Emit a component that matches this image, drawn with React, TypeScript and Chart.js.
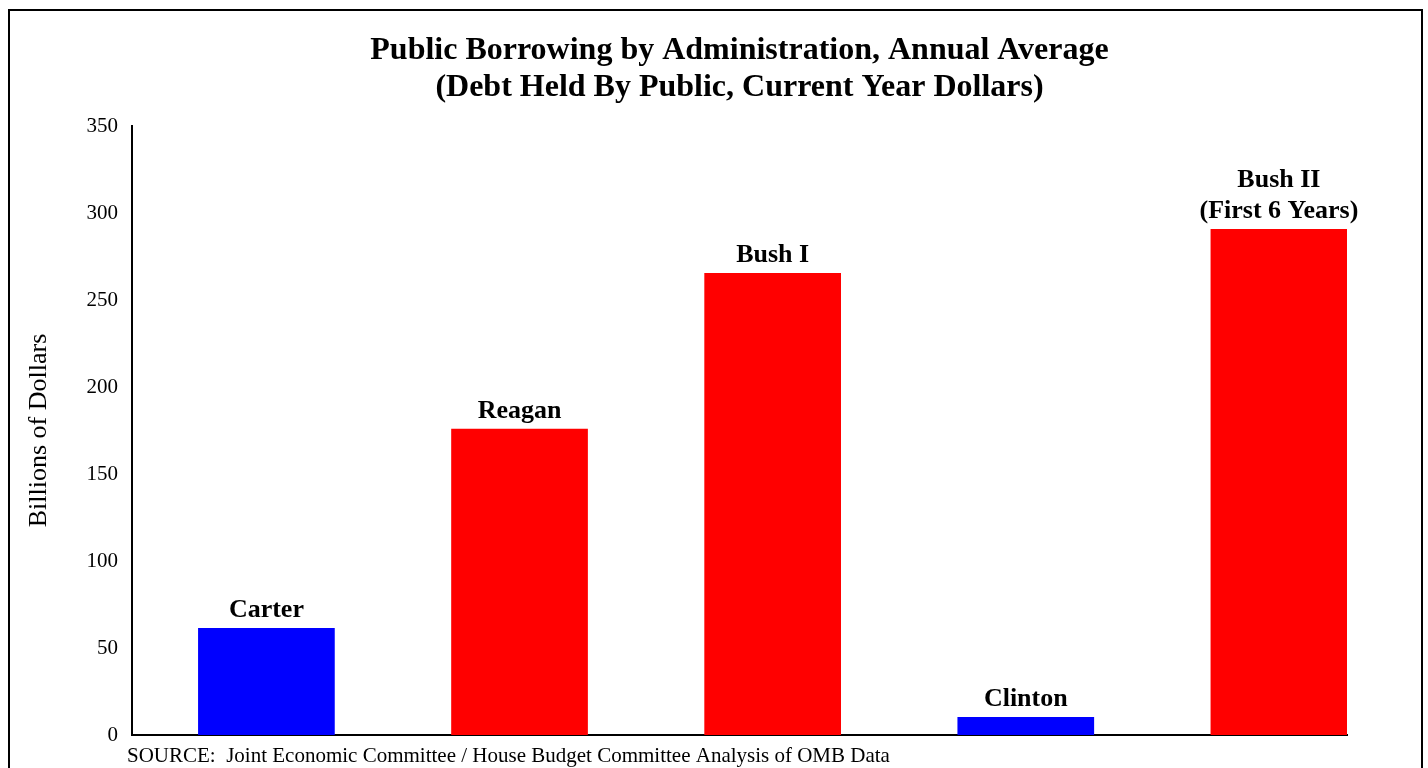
import React, { useEffect, useRef } from "react";
import { Chart, registerables } from "chart.js";

Chart.register(...registerables);

const categories: string[][] = [["Carter"], ["Reagan"], ["Bush I"], ["Clinton"], ["Bush II", "(First 6 Years)"]];
const values: number[] = [61.5, 176, 265.5, 10.3, 290.8];
const barColors: string[] = ["#0000FF", "#FF0000", "#FF0000", "#0000FF", "#FF0000"];
const titleLines: string[] = ["Public Borrowing by Administration, Annual Average", "(Debt Held By Public, Current Year Dollars)"];
const yAxisTitle = "Billions of Dollars";
const sourceNote = "SOURCE:  Joint Economic Committee / House Budget Committee Analysis of OMB Data";
const yTicks = { min: 0, max: 350, step: 50 };

const FONT = "'Liberation Serif', 'Times New Roman', serif";

export default function App() {
  const ref = useRef<HTMLCanvasElement | null>(null);
  useEffect(() => {
    document.body.style.margin = "0";
    document.body.style.overflow = "hidden";
    const canvas = ref.current!;
    const textPlugin = {
      id: "texts",
      afterDatasetsDraw(chart: any) {
        const ctx = chart.ctx;
        const meta = chart.getDatasetMeta(0);
        ctx.save();
        ctx.fillStyle = "#000";
        ctx.textAlign = "center";
        ctx.textBaseline = "alphabetic";
        ctx.font = `bold 26px ${FONT}`;
        meta.data.forEach((el: any, i: number) => {
          const lines = categories[i];
          lines.forEach((ln, j) => {
            const y = el.y - 11 - (lines.length - 1 - j) * 31;
            ctx.fillText(ln, el.x, y);
          });
        });
        const ca = chart.chartArea;
        ctx.font = `bold 32px ${FONT}`;
        ctx.textBaseline = "middle";
        const cx = (ca.left + ca.right) / 2;
        ctx.fillText(titleLines[0], cx, 51);
        ctx.fillText(titleLines[1], cx, 88);
        ctx.textAlign = "left";
        ctx.font = `21px ${FONT}`;
        ctx.fillText(sourceNote, ca.left - 5, ca.bottom + 21);
        ctx.restore();
      },
    };
    const chart = new Chart(canvas, {
      type: "bar",
      data: {
        datasets: [
          {
            data: values.map((v, i) => ({ x: i, y: v })),
            backgroundColor: barColors,
            borderWidth: 0,
            barPercentage: 0.54,
            categoryPercentage: 1,
          },
        ],
      },
      options: {
        responsive: false,
        animation: false,
        layout: { padding: { left: 20, right: 81, top: 126, bottom: 33 } },
        plugins: { legend: { display: false }, tooltip: { enabled: false }, title: { display: false } },
        scales: {
          x: {
            type: "linear",
            offset: false,
            min: -0.531,
            max: 4.269,
            ticks: { display: false, stepSize: 1, includeBounds: false },
            grid: { display: false, drawTicks: false, offset: false },
            border: { display: true, color: "#000", width: 2 },
            afterFit: (s: any) => {
              s.height = 0;
            },
          },
          y: {
            min: yTicks.min,
            max: yTicks.max,
            ticks: { stepSize: yTicks.step, color: "#000", padding: 14, font: { family: FONT, size: 21 } },
            grid: { display: false, drawTicks: false },
            border: { display: true, color: "#000", width: 2 },
            title: { display: true, text: yAxisTitle, color: "#000", font: { family: FONT, size: 26 }, padding: 4 },
            afterFit: (s: any) => {
              s.width = 112;
            },
          },
        },
      } as any,
      plugins: [textPlugin],
    });
    return () => chart.destroy();
  }, []);
  return (
    <div style={{ position: "fixed", left: 0, top: 0, width: 1428, height: 768, overflow: "hidden", background: "#fff" }}>
      <div style={{ position: "absolute", left: 8, top: 9, width: 1411, height: 800, border: "2px solid #000" }} />
      <canvas ref={ref} width={1428} height={768} style={{ position: "absolute", left: 0, top: 0, width: 1428, height: 768 }} />
    </div>
  );
}
